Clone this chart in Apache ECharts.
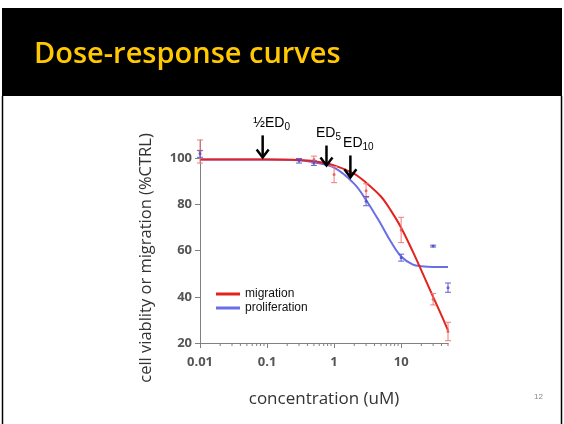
<!DOCTYPE html>
<html><head><meta charset="utf-8">
<script src="https://cdn.jsdelivr.net/npm/echarts@6/dist/echarts.min.js"></script>
<style>html,body{margin:0;padding:0;background:#fff}#c{width:564px;height:424px}</style>
</head><body><div id="c"></div>
<script>
// ---- data ----
const xTicks = [0.01, 0.1, 1, 10];
const xMinorTicks = [0.02,0.03,0.04,0.05,0.06,0.07,0.08,0.09,0.2,0.3,0.4,0.5,0.6,0.7,0.8,0.9,2,3,4,5,6,7,8,9,20,30,40,50];
const yTicks = [20, 40, 60, 80, 100];

const migX    = [0.01, 0.5, 1, 3, 10, 30, 50];
const migMean = [103, 99.5, 93, 86, 69, 39, 25];
const migErr  = [5, 1.5, 3.5, 3, 5.5, 2.5, 4];

const proX    = [0.01, 0.3, 0.5, 3, 10, 30, 50];
const proMean = [102, 99, 98, 81.5, 57, 62, 44];
const proErr  = [1.5, 1, 1, 2, 1.5, 0.4, 2];

const fitX    = [0.01, 0.1, 0.3, 0.5, 1, 2, 3, 5, 7, 10, 15, 20, 30, 40, 50];
const migFit  = [99.5, 99.5, 99.3, 98.8, 97, 93.3, 89.5, 83.5, 77.5, 70, 59.5, 51.5, 40, 32, 25.5];
const proFit  = [99.5, 99.5, 99.2, 98.3, 96, 89, 82, 71.5, 64, 57.5, 54, 53.3, 53, 53, 53];

const annoNames = ['½ED', 'ED', 'ED'];
const annoSubs  = ['0', '5', '10'];
const annoX     = [0.086, 0.77, 1.75];
const annoTop   = [110, 105.6, 101.3];
const annoTip   = [100.4, 97, 91.8];
const annoDx    = [9, 2, 8];

// ---- chart ----
const chart = echarts.init(document.getElementById('c'));
const RED = '#e3221e', BLUE = '#6a6ee6';
const Y_MIN = 20;
const pair = (xs, ys) => xs.map((x, i) => [x, ys[i]]);
const errData = (xs, ys, es) => xs.map((x, i) => [x, ys[i] - es[i], ys[i] + es[i]]);

function errRender(color) {
  return function (params, api) {
    const lo = api.coord([api.value(0), api.value(1)]);
    const hi = api.coord([api.value(0), api.value(2)]);
    const w = 3;
    const st = { stroke: color, lineWidth: 1 };
    return { type: 'group', children: [
      { type: 'line', shape: { x1: lo[0], y1: lo[1], x2: hi[0], y2: hi[1] }, style: st },
      { type: 'line', shape: { x1: lo[0]-w, y1: lo[1], x2: lo[0]+w, y2: lo[1] }, style: st },
      { type: 'line', shape: { x1: hi[0]-w, y1: hi[1], x2: hi[0]+w, y2: hi[1] }, style: st }
    ]};
  };
}

chart.setOption({
  animation: false,
  grid: { left: 200, right: 116, top: 140, bottom: 81, containLabel: false },
  legend: {
    data: ['migration', 'proliferation'], orient: 'vertical', left: 211, top: 282,
    itemWidth: 24, itemHeight: 3, itemGap: 0, icon: 'rect',
    textStyle: { fontFamily: 'Liberation Sans', fontSize: 12, color: '#111', lineHeight: 14 }
  },
  xAxis: {
    type: 'log', logBase: 10, min: 0.01, max: 50,
    axisLine: { lineStyle: { color: '#808080', width: 1 } },
    splitLine: { show: false },
    name: 'concentration (uM)', nameLocation: 'middle', nameGap: 48,
    nameTextStyle: { fontFamily: 'Open Sans', fontSize: 17, color: '#333' },
    axisTick: { show: true, length: 5, inside: false, customValues: xTicks, lineStyle: { color: '#808080' } },
    axisLabel: { customValues: xTicks, margin: 13, fontFamily: 'Open Sans', fontSize: 13, fontWeight: 'bold', color: '#555',
      formatter: v => String(v) }
  },
  yAxis: {
    type: 'value', min: Y_MIN, max: 108,
    axisLine: { show: true, lineStyle: { color: '#808080' } },
    axisTick: { show: true, length: 5, customValues: yTicks, lineStyle: { color: '#808080' } },
    axisLabel: { customValues: yTicks, margin: 8, fontFamily: 'Open Sans', fontSize: 13, fontWeight: 'bold', color: '#555' },
    splitLine: { show: false }
  },
  series: [
    { name: 'minorTicks', type: 'custom', clip: false, z: 1, silent: true,
      data: xMinorTicks.map(v => [v, Y_MIN]),
      renderItem: function (params, api) {
        const p = api.coord([api.value(0), api.value(1)]);
        return { type: 'line', shape: { x1: p[0], y1: p[1], x2: p[0], y2: p[1] + 3 }, style: { stroke: '#808080', lineWidth: 1 } };
      }
    },
    { name: 'migration', type: 'line', smooth: 0.35, showSymbol: false, data: pair(fitX, migFit),
      lineStyle: { color: RED, width: 2 }, itemStyle: { color: RED }, z: 3 },
    { name: 'proliferation', type: 'line', smooth: 0.35, showSymbol: false, data: pair(fitX, proFit),
      lineStyle: { color: BLUE, width: 2 }, itemStyle: { color: BLUE }, z: 2 },
    { name: 'migErr', type: 'custom', renderItem: errRender('#f07a7a'), data: errData(migX, migMean, migErr), clip: false, z: 4 },
    { name: 'proErr', type: 'custom', renderItem: errRender('#5a5ed8'), data: errData(proX, proMean, proErr), clip: false, z: 4 },
    { name: 'migPts', type: 'scatter', symbolSize: 3, data: pair(migX, migMean), itemStyle: { color: '#e65050' }, z: 5 },
    { name: 'proPts', type: 'scatter', symbolSize: 3, data: pair(proX, proMean), itemStyle: { color: '#4a4ec8' }, z: 5 },
    { name: 'anno', type: 'custom', clip: false, z: 10,
      data: annoX.map((x, i) => [x, annoTop[i], annoTip[i], i]),
      renderItem: function (params, api) {
        const i = api.value(3);
        const top = api.coord([api.value(0), api.value(1)]);
        const tip = api.coord([api.value(0), api.value(2)]);
        const st = { stroke: '#000', lineWidth: 2.5, fill: null };
        return { type: 'group', children: [
          { type: 'line', shape: { x1: top[0], y1: top[1], x2: tip[0], y2: tip[1] - 1 }, style: st },
          { type: 'polyline', shape: { points: [[tip[0]-6, tip[1]-8], [tip[0], tip[1]], [tip[0]+6, tip[1]-8]] }, style: st },
          { type: 'text', x: top[0] + annoDx[i], y: top[1] - 12,
            style: { text: '{a|' + annoNames[i] + '}{s|' + annoSubs[i] + '}', align: 'center', verticalAlign: 'middle',
              rich: { a: { fontFamily: 'Liberation Sans', fontSize: 14, color: '#000' },
                      s: { fontFamily: 'Liberation Sans', fontSize: 10, color: '#000', padding: [8, 0, 0, 0] } } } }
        ]};
      }
    }
  ],
  graphic: [
    { type: 'rect', shape: { x: 2, y: 8, width: 560, height: 88 }, style: { fill: '#000' }, silent: true },
    { type: 'text', x: 34, y: 55, style: { text: 'Dose-response curves', fill: '#FFC800',
      font: '600 29px "Open Sans"', verticalAlign: 'middle' } },
    { type: 'text', x: 146, y: 258, rotation: Math.PI / 2,
      style: { text: 'cell viablity or migration (%CTRL)', fill: '#333', font: '16.5px "Open Sans"',
        align: 'center', verticalAlign: 'middle' } },
    { type: 'line', shape: { x1: 2.5, y1: 96, x2: 2.5, y2: 424 }, style: { stroke: '#000', lineWidth: 1.5 } },
    { type: 'line', shape: { x1: 561.5, y1: 96, x2: 561.5, y2: 424 }, style: { stroke: '#000', lineWidth: 1.5 } },
    { type: 'text', x: 534, y: 393, style: { text: '12', fill: '#888', font: '8px "Liberation Sans"' } }
  ]
});
</script>
</body></html>
